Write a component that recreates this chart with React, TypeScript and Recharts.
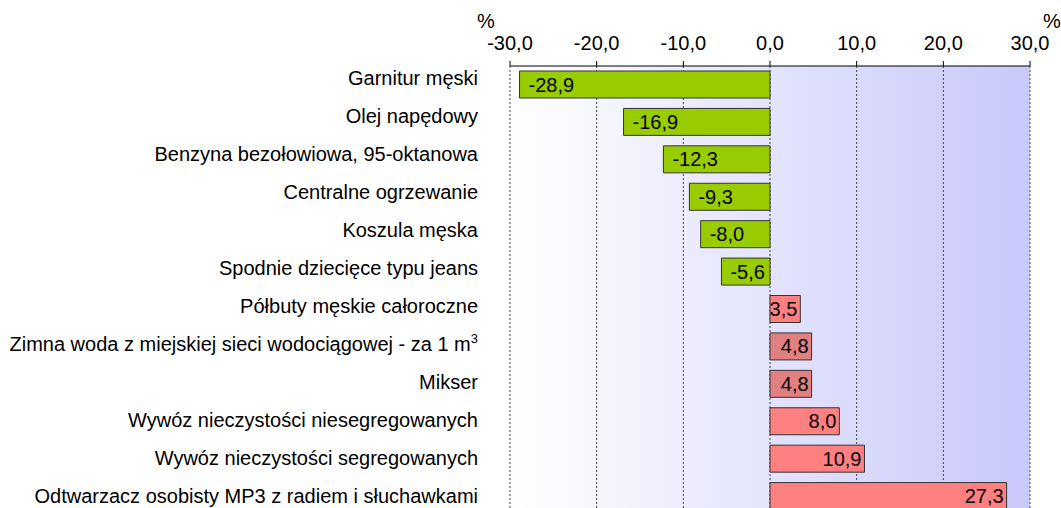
import React from "react"
import {
  BarChart,
  Bar,
  XAxis,
  YAxis,
  CartesianGrid,
  Cell,
  LabelList,
} from "recharts"

const categories = [
  "Garnitur męski",
  "Olej napędowy",
  "Benzyna bezołowiowa, 95-oktanowa",
  "Centralne ogrzewanie",
  "Koszula męska",
  "Spodnie dziecięce typu jeans",
  "Półbuty męskie całoroczne",
  "Zimna woda z miejskiej sieci wodociągowej - za 1 m³",
  "Mikser",
  "Wywóz nieczystości niesegregowanych",
  "Wywóz nieczystości segregowanych",
  "Odtwarzacz osobisty MP3 z radiem i słuchawkami",
]

const changes = [-28.9, -16.9, -12.3, -9.3, -8.0, -5.6, 3.5, 4.8, 4.8, 8.0, 10.9, 27.3]

const xTicks = [-30, -20, -10, 0, 10, 20, 30]

// rows drawn in the darker pink in the original
const darkerRows = ["Zimna woda z miejskiej sieci wodociągowej - za 1 m³", "Mikser"]

const chartData = categories.map((name, i) => ({ name, value: changes[i] }))

const fmt = (v: number) => v.toFixed(1).replace(".", ",")

function barColor(name: string, value: number) {
  if (value < 0) return "#99cc00"
  return darkerRows.includes(name) ? "#e08080" : "#ff8080"
}

// the original's labels are spaced a touch wider than the bars
function CategoryTick(props: any) {
  const { x, y, payload, index } = props
  const label: string = payload.value
  const ty = y + (index ?? 0) * 0.6
  if (label.endsWith("³")) {
    return (
      <text x={x} y={ty} textAnchor="end" fontSize={20} fill="#000">
        <tspan>{label.slice(0, -1)}</tspan>
        <tspan dy={-8} fontSize={13}>3</tspan>
      </text>
    )
  }
  return (
    <text x={x} y={ty} textAnchor="end" fontSize={20} fill="#000">
      {label}
    </text>
  )
}

function ValueLabel(props: any) {
  const { x, y, width, height, value } = props
  const left = Math.min(x, x + width)
  const right = Math.max(x, x + width)
  const ty = y + height / 2 + 7
  if (value < 0) {
    return (
      <text x={left + 9} y={ty} textAnchor="start" fontSize={20} fill="#000">
        {fmt(value)}
      </text>
    )
  }
  return (
    <text x={right - 3} y={ty} textAnchor="end" fontSize={20} fill="#000">
      {fmt(value)}
    </text>
  )
}

export default function App() {
  return (
    <div
      style={{
        position: "absolute",
        left: 0,
        top: 0,
        width: 1061,
        height: 508,
        overflow: "hidden",
        background: "#fff",
        fontFamily: "'Liberation Sans', Arial, sans-serif",
      }}
    >
      <BarChart
        width={1061}
        height={515}
        data={chartData}
        layout="vertical"
        margin={{ top: 30, right: 31, left: 0, bottom: 0 }}
      >
        <defs>
          <linearGradient id="plotBg" x1="0" y1="0" x2="1" y2="0">
            <stop offset="0%" stopColor="#ffffff" />
            <stop offset="100%" stopColor="#c8c8fa" />
          </linearGradient>
        </defs>
        <CartesianGrid
          horizontal={false}
          vertical
          stroke="#444"
          strokeDasharray="2 2"
          fill="url(#plotBg)"
          fillOpacity={1}
        />
        <XAxis
          type="number"
          orientation="top"
          domain={[-30, 30]}
          ticks={xTicks}
          tickFormatter={fmt}
          height={36}
          tickSize={5}
          tickMargin={11}
          tick={{ fontSize: 20, fill: "#000" }}
          axisLine={{ stroke: "#000" }}
          tickLine={{ stroke: "#000" }}
          allowDataOverflow
        />
        <YAxis
          type="category"
          dataKey="name"
          width={510}
          axisLine={false}
          tickLine={false}
          tickSize={0}
          tickMargin={32}
          interval={0}
          tick={<CategoryTick />}
        />
        <Bar dataKey="value" barSize={27} stroke="#333" strokeWidth={1} isAnimationActive={false}>
          {chartData.map((d) => (
            <Cell key={d.name} fill={barColor(d.name, d.value)} />
          ))}
          <LabelList dataKey="value" content={<ValueLabel />} />
        </Bar>
        <text x={486} y={28} textAnchor="middle" fontSize={20} fill="#000">%</text>
        <text x={1052} y={28} textAnchor="middle" fontSize={20} fill="#000">%</text>
      </BarChart>
    </div>
  )
}
